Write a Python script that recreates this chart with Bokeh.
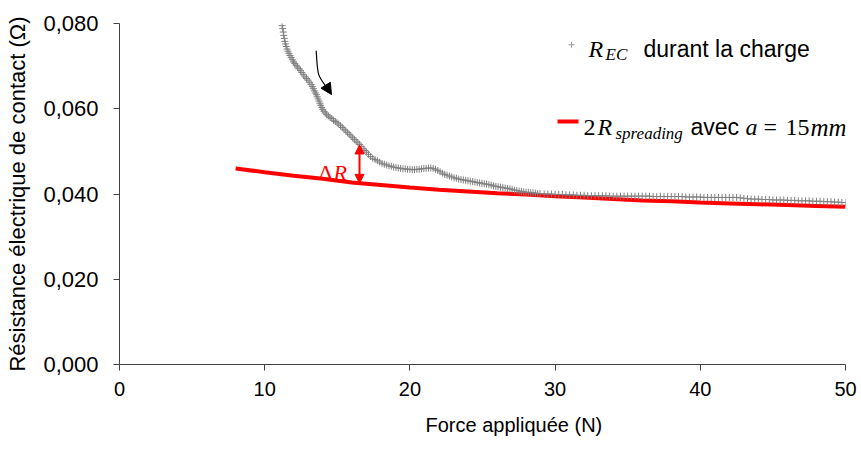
from bokeh.plotting import figure
from bokeh.models import Range1d, FixedTicker, Label, Arrow, NormalHead, Title
from bokeh.embed import file_html
from bokeh.resources import INLINE

# ---- data ----
x_ticks = [0, 10, 20, 30, 40, 50]
y_ticks = [0.0, 0.02, 0.04, 0.06, 0.08]
y_tick_labels = ["0,000", "0,020", "0,040", "0,060", "0,080"]
x_title = "Force appliquée (N)"
y_title = "Résistance électrique de contact (Ω)"

force_charge = [
    11.20, 11.24, 11.28, 11.31, 11.35, 11.39, 11.43, 11.48, 11.54, 11.60,
    11.67, 11.74, 11.82, 11.90, 11.98, 12.07, 12.16, 12.26, 12.36, 12.46,
    12.56, 12.66, 12.77, 12.88, 12.99, 13.10, 13.20, 13.28, 13.35, 13.42,
    13.49, 13.56, 13.62, 13.68, 13.74, 13.80, 13.86, 13.93, 14.00, 14.08,
    14.17, 14.27, 14.38, 14.50, 14.62, 14.74, 14.86, 14.98, 15.10, 15.22,
    15.34, 15.46, 15.58, 15.70, 15.82, 15.94, 16.06, 16.18, 16.30, 16.42,
    16.54, 16.66, 16.78, 16.90, 17.02, 17.15, 17.29, 17.44, 17.60, 17.76,
    17.92, 18.08, 18.24, 18.40, 18.56, 18.72, 18.88, 19.04, 19.20, 19.36,
    19.52, 19.68, 19.84, 20.00, 20.16, 20.32, 20.48, 20.64, 20.80, 20.96,
    21.12, 21.28, 21.44, 21.60, 21.76, 21.92, 22.08, 22.24, 22.40, 22.56,
    22.72, 22.88, 23.04, 23.20, 23.36, 23.52, 23.68, 23.84, 24.00, 24.16,
    24.32, 24.48, 24.64, 24.80, 24.96, 25.12, 25.28, 25.44, 25.60, 25.76,
    25.92, 26.08, 26.24, 26.40, 26.56, 26.72, 26.88, 27.04, 27.20, 27.36,
    27.52, 27.68, 27.84, 28.00, 28.16, 28.32, 28.48, 28.64, 28.80, 28.96,
    29.25, 29.50, 29.75, 30.00, 30.25, 30.50, 30.75, 31.00, 31.25, 31.50,
    31.75, 32.00, 32.25, 32.50, 32.75, 33.00, 33.25, 33.50, 33.75, 34.00,
    34.25, 34.50, 34.75, 35.00, 35.25, 35.50, 35.75, 36.00, 36.25, 36.50,
    36.75, 37.00, 37.25, 37.50, 37.75, 38.00, 38.25, 38.50, 38.75, 39.00,
    39.25, 39.50, 39.75, 40.00, 40.25, 40.50, 40.75, 41.00, 41.25, 41.50,
    41.75, 42.00, 42.25, 42.50, 42.75, 43.00, 43.25, 43.50, 43.75, 44.00,
    44.25, 44.50, 44.75, 45.00, 45.25, 45.50, 45.75, 46.00, 46.25, 46.50,
    46.75, 47.00, 47.25, 47.50, 47.75, 48.00, 48.25, 48.50, 48.75, 49.00,
    49.25, 49.50, 49.75, 50.00,
]
r_ec_charge = [
    0.0795, 0.0788, 0.0780, 0.0772, 0.0765, 0.0758, 0.0752, 0.0746, 0.0740, 0.0735,
    0.0730, 0.0725, 0.0720, 0.0715, 0.0710, 0.0706, 0.0702, 0.0698, 0.0694, 0.0690,
    0.0685, 0.0680, 0.0675, 0.0671, 0.0667, 0.0662, 0.0657, 0.0652, 0.0647, 0.0642,
    0.0637, 0.0633, 0.0628, 0.0623, 0.0618, 0.0613, 0.0608, 0.0603, 0.0598, 0.0594,
    0.0590, 0.0586, 0.0583, 0.0580, 0.0577, 0.0573, 0.0570, 0.0567, 0.0564, 0.0560,
    0.0556, 0.0552, 0.0548, 0.0544, 0.0540, 0.0536, 0.0532, 0.0528, 0.0524, 0.0520,
    0.0516, 0.0511, 0.0506, 0.0502, 0.0498, 0.0493, 0.0488, 0.0484, 0.0481, 0.0478,
    0.0475, 0.0472, 0.0470, 0.0468, 0.0466, 0.0465, 0.0463, 0.0462, 0.0461, 0.0460,
    0.0459, 0.0459, 0.0458, 0.0458, 0.0457, 0.0457, 0.0458, 0.0458, 0.0459, 0.0460,
    0.0460, 0.0461, 0.0461, 0.0460, 0.0458, 0.0455, 0.0452, 0.0449, 0.0446, 0.0444,
    0.0442, 0.0440, 0.0438, 0.0437, 0.0435, 0.0434, 0.0433, 0.0432, 0.0431, 0.0430,
    0.0429, 0.0428, 0.0427, 0.0426, 0.0425, 0.0424, 0.0423, 0.0422, 0.0421, 0.0419,
    0.0418, 0.0417, 0.0416, 0.0415, 0.0414, 0.0413, 0.0412, 0.0411, 0.0409, 0.0408,
    0.0407, 0.0406, 0.0405, 0.0404, 0.0404, 0.0403, 0.0403, 0.0402, 0.0401, 0.0401,
    0.0400, 0.0400, 0.0400, 0.0399, 0.0399, 0.0399, 0.0398, 0.0398, 0.0398, 0.0397,
    0.0397, 0.0397, 0.0396, 0.0396, 0.0396, 0.0396, 0.0396, 0.0396, 0.0395, 0.0395,
    0.0395, 0.0395, 0.0395, 0.0395, 0.0395, 0.0395, 0.0395, 0.0395, 0.0395, 0.0395,
    0.0394, 0.0394, 0.0394, 0.0394, 0.0394, 0.0394, 0.0394, 0.0394, 0.0394, 0.0393,
    0.0393, 0.0393, 0.0393, 0.0393, 0.0392, 0.0392, 0.0392, 0.0392, 0.0392, 0.0392,
    0.0392, 0.0392, 0.0392, 0.0392, 0.0391, 0.0390, 0.0389, 0.0388, 0.0388, 0.0388,
    0.0387, 0.0387, 0.0387, 0.0386, 0.0386, 0.0386, 0.0386, 0.0385, 0.0385, 0.0385,
    0.0384, 0.0384, 0.0384, 0.0384, 0.0383, 0.0383, 0.0383, 0.0382, 0.0382, 0.0382,
    0.0381, 0.0381, 0.0380, 0.0380,
]

force_spreading = [8, 10, 12, 14, 16, 18, 20, 22, 24, 26, 28, 30, 32, 34, 36, 38, 40, 42, 44, 46, 48, 50]
r_spreading = [0.0460, 0.0451, 0.0443, 0.0436, 0.0427, 0.0421, 0.0415, 0.0410, 0.0406, 0.0402, 0.0399,
               0.0395, 0.0392, 0.0388, 0.0385, 0.0383, 0.0380, 0.0378, 0.0376, 0.0374, 0.0372, 0.0370]

# Delta R annotation position
delta_x = 16.53
delta_bottom = 0.0425
delta_top = 0.0515

SANS = "Liberation Sans"
SERIF = "Liberation Serif"
RED = "#FF0000"
GRAY = "#808080"

p = figure(width=861, height=449, output_backend="svg", toolbar_location=None,
           x_range=Range1d(0, 50), y_range=Range1d(0, 0.08),
           min_border_left=119, min_border_right=16, min_border_top=23, min_border_bottom=84)
p.outline_line_color = None
p.xgrid.visible = False
p.ygrid.visible = False
p.background_fill_color = "white"

p.line(force_spreading, r_spreading, line_color=RED, line_width=4)
p.scatter(force_charge, r_ec_charge, marker="cross", size=7, line_color=GRAY, line_width=1)

# axes
for ax in (p.xaxis[0], p.yaxis[0]):
    ax.axis_line_color = "#404040"
    ax.major_tick_line_color = "#404040"
    ax.major_tick_in = 0
    ax.major_tick_out = 6
    ax.minor_tick_line_color = None
    ax.major_label_text_font = SANS
    ax.axis_label_text_font = SANS
    ax.axis_label_text_font_style = "normal"
    ax.major_label_text_color = "#000000"
    ax.axis_label_text_color = "#000000"

p.xaxis.ticker = FixedTicker(ticks=x_ticks)
p.yaxis.ticker = FixedTicker(ticks=y_ticks)
p.yaxis.major_label_overrides = dict(zip(y_ticks, y_tick_labels))
p.xaxis.major_label_text_font_size = "20px"
p.yaxis.major_label_text_font_size = "22px"
p.yaxis.axis_label = y_title
p.yaxis.axis_label_text_font_size = "22px"
p.yaxis.major_label_standoff = 15
p.yaxis.axis_label_standoff = 10
p.xaxis.major_label_standoff = 11

# x axis title, slightly right of centre as in the reference
p.add_layout(Title(text=x_title, align="left", offset=306, standoff=27,
                   text_font=SANS, text_font_style="normal", text_font_size="20px",
                   text_color="#000000"), "below")

# helpers: window pixel -> data
def dx(px):
    return (px - 119) / 14.52

def dy(py):
    return (365 - py) / 4278.75

def lab(text, px, py, size, font=SANS, style="normal", color="#000000"):
    p.add_layout(Label(x=dx(px), y=dy(py), text=text, text_font=font, text_font_style=style,
                       text_font_size=size, text_color=color, text_align="left",
                       text_baseline="alphabetic"))

# legend entry 1
p.scatter([dx(571)], [dy(44)], marker="cross", size=6, line_color="#999999", line_width=1)
lab("R", 588, 48.5, "24px", SERIF, "italic")
lab("EC", 605, 53.5, "17px", SERIF, "italic")
lab("durant la charge", 643, 48.5, "23px")

# legend entry 2
p.line([dx(557), dx(578)], [dy(121), dy(121)], line_color=RED, line_width=4)
lab("2", 583, 127, "24px", SERIF)
lab("R", 597, 127, "24px", SERIF, "italic")
lab("spreading", 615, 133.5, "17px", SERIF, "italic")
lab("avec", 690, 127, "23px")
lab("a", 745, 127, "24px", SERIF, "italic")
lab("=", 763, 127, "24px", SERIF)
lab("15", 785, 127, "24px", SERIF)
lab("mm", 810, 127, "25px", SERIF, "italic")

# Delta R
lab("Δ", 318, 172, "22px", SERIF, color=RED)
lab("R", 333, 172, "22px", SERIF, "italic", color=RED)
p.add_layout(Arrow(x_start=delta_x, y_start=delta_bottom, x_end=delta_x, y_end=delta_top,
                   line_color=RED, line_width=2,
                   start=NormalHead(size=9, fill_color=RED, line_color=RED),
                   end=NormalHead(size=9, fill_color=RED, line_color=RED)))

# curved black arrow
p.bezier(x0=[dx(315.7)], y0=[dy(50)], x1=[dx(327)], y1=[dy(88)],
         cx0=[dx(317)], cy0=[dy(75)], cx1=[dx(317)], cy1=[dy(75)],
         line_color="black", line_width=1.2)
p.add_layout(Arrow(x_start=dx(326), y_start=dy(86), x_end=dx(331), y_end=dy(94),
                   line_color=None, line_width=1,
                   end=NormalHead(size=11, fill_color="black", line_color="black")))

open("out.html", "w").write(file_html(p, INLINE))
